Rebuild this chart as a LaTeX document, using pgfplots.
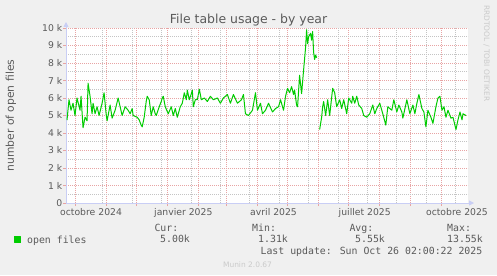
\documentclass[border=0pt]{standalone}
\usepackage{pgfplots}
\pgfplotsset{compat=1.18}
\usepackage{pgfplotstable}
\usepackage{fontspec}
\setmainfont{DejaVu Sans}
\newfontfamily\monofont{DejaVu Sans Mono}
\usetikzlibrary{arrows.meta}
\definecolor{bgc}{HTML}{F0F0F0}
\definecolor{txt}{HTML}{5A5A5A}
\definecolor{mgrid}{HTML}{E8A4A4}
\definecolor{ngrid}{HTML}{C4C4C4}
\definecolor{axc}{HTML}{C9CEF5}
\definecolor{lgreen}{HTML}{00CC00}
\definecolor{faint}{HTML}{CACACA}

% day 0 = 1 Oct 2024 ; value = open files
\pgfplotstableread{
day val
-8 4740
-6 5900
-4 5300
-2 5700
0 5000
2 6000
5 5300
6 6100
8 4300
10 4900
12 4700
13 6850
15 6100
17 5100
18 5700
20 5100
22 5500
24 5000
27 5700
29 6300
31 5100
32 4700
35 5600
37 4850
40 5300
43 6000
45 5500
47 5000
50 5500
53 5300
55 5100
57 5400
58 5000
62 4900
64 4750
66 4450
67 4350
69 4900
71 5800
72 6100
74 5900
76 5000
78 5500
80 5100
81 5000
84 5500
86 5800
87 6000
88 6100
90 5500
93 5100
96 5500
98 5000
100 5400
102 4900
105 5500
107 5700
109 6300
111 5900
112 6450
114 5900
116 6250
117 6450
118 5500
120 5900
122 5900
124 6500
126 5900
129 6000
132 5800
135 6100
138 5900
142 6000
145 5700
148 6000
152 6200
155 5700
158 6200
162 5700
166 5900
168 6200
170 5100
173 5000
177 5300
180 6300
182 5300
185 5700
187 5100
190 5300
193 5700
197 5200
200 5400
203 5500
205 5900
208 5300
210 6100
212 6550
214 6300
216 6650
218 6200
219 6450
221 5600
222 5500
224 7300
226 6250
228 7600
230 8900
231 9900
232 9100
233 9500
235 9700
236 9300
237 9800
238 8600
239 8200
240 8450
241 8300
242 nan
244 4200
246 4900
247 5500
248 5800
250 5000
252 5900
254 5000
257 6550
259 6300
261 5500
264 5900
266 5400
268 5900
271 5100
273 6000
276 5700
277 6100
279 5700
281 6100
283 5600
286 5400
288 5000
291 4900
294 5100
297 5600
299 5100
301 5400
304 5700
307 5100
310 4450
312 5500
316 5300
318 5900
321 5200
323 5600
326 5200
327 4850
331 5900
334 5100
337 5600
339 5100
341 5700
343 6200
346 5400
348 5200
350 4350
352 5300
355 4900
357 4550
360 5500
362 6000
364 6100
366 5300
368 5500
370 4900
372 5300
375 4850
377 4900
380 4200
382 4750
384 5200
386 4750
387 5100
390 5000
}\filetable

\begin{document}
\begin{tikzpicture}[x=1bp,y=1bp]
\fill[bgc] (0,0) rectangle (497,275);
\useasboundingbox (0,0) rectangle (497,275);
\begin{axis}[
  at={(66bp,72bp)}, anchor=south west,
  scale only axis, width=402bp, height=175bp,
  xmin=-9, xmax=392, ymin=0, ymax=10000,
  scaled y ticks=false,
  axis background/.style={fill=white},
  axis x line*=bottom, axis y line*=left,
  x axis line style={draw=axc, line width=0.9bp, shorten >=-6bp, -{Triangle[length=5bp,width=5bp]}},
  y axis line style={draw=axc, line width=0.9bp, shorten >=-6bp, -{Triangle[length=5bp,width=5bp]}},
  tick align=outside,
  major tick length=3bp, minor tick length=3bp,
  xtick={16,108,198,289,381},
  xticklabels={octobre 2024,janvier 2025,avril 2025,juillet 2025,octobre 2025},
  major x tick style={draw=none},
  minor xtick={0,31,61,92,123,151,182,212,243,273,304,335,365},
  minor x tick style={draw=mgrid, line width=0.8bp},
  xminorgrids=true,
  minor x grid style={draw=mgrid, line width=0.8bp, dash pattern=on 1bp off 1bp},
  ytick={0,1000,2000,3000,4000,5000,6000,7000,8000,9000,10000},
  yticklabels={0,1 k,2 k,3 k,4 k,5 k,6 k,7 k,8 k,9 k,10 k},
  ymajorgrids=true,
  major y grid style={draw=mgrid, line width=0.8bp, dash pattern=on 1bp off 1bp},
  major y tick style={draw=mgrid, line width=0.8bp},
  minor y tick num=1,
  yminorgrids=true,
  minor y grid style={draw=ngrid, line width=0.8bp, dash pattern=on 1bp off 1bp},
  minor y tick style={draw=none},
  tick label style={font=\fontsize{9.3}{11}\selectfont, text=txt},
  yticklabel style={anchor=east, inner sep=0pt, xshift=-0.5bp},
  xticklabel style={anchor=base, inner sep=0pt, yshift=-9.5bp},
  title={File table usage - by year},
  every axis title/.style={at={(0.5,1)}, anchor=base, yshift=4.5bp, xshift=-18.5bp, font=\fontsize{12.5}{14}\selectfont, text=txt},
  ylabel={number of open files},
  every axis y label/.style={at={(0,0.5)}, xshift=-55.2bp, rotate=90, anchor=center, font=\fontsize{10.8}{12}\selectfont, text=txt},
  unbounded coords=jump,
  legend style={at={(rel axis cs:-0.1294,-0.2114)}, anchor=west, draw=none, fill=none, inner sep=0pt,
    font=\monofont\fontsize{9.9}{11}\selectfont, text=txt,
    nodes={inner sep=0pt},
    /tikz/every odd column/.append style={column sep=6bp}},
  legend image code/.code={\fill[lgreen] (0bp,-3bp) rectangle (6bp,3bp);},
]
% light grey secondary vertical grid lines
\pgfplotsinvokeforeach{27.7,57,86.4,115.7,145,174.4,203.7,233,262.4,291.7,321,350.4,379.7}{
  \draw[ngrid, line width=0.8bp, dash pattern=on 1bp off 1bp] (axis cs:#1,0) -- (axis cs:#1,10000);
}
\addplot[lgreen, line width=1bp, line join=round] table[x=day, y=val] {\filetable};
\addlegendentry{open files}
\end{axis}
\begin{scope}[font=\monofont\fontsize{9.9}{11}\selectfont, text=txt]
\node[anchor=base west, inner sep=0pt] at (154.3,44) {Cur:};
\node[anchor=base west, inner sep=0pt] at (160,32.3) {5.00k};
\node[anchor=base west, inner sep=0pt] at (252,44) {Min:};
\node[anchor=base west, inner sep=0pt] at (258,32.3) {1.31k};
\node[anchor=base west, inner sep=0pt] at (349.3,44) {Avg:};
\node[anchor=base west, inner sep=0pt] at (355,32.3) {5.55k};
\node[anchor=base west, inner sep=0pt] at (447,44) {Max:};
\node[anchor=base west, inner sep=0pt] at (447,32.3) {13.55k};
\node[anchor=base east, inner sep=0pt] at (482.5,21) {Last update: Sun Oct 26 02:00:22 2025};
\end{scope}
\node[anchor=base, inner sep=0pt, font=\fontsize{7.5}{9}\selectfont, text=faint] at (247.5,7.7) {Munin 2.0.67};
\node[rotate=-90, anchor=west, inner sep=0pt, font=\fontsize{7.5}{9}\selectfont, text=faint] at (486.5,270) {RRDTOOL / TOBI OETIKER};
\end{tikzpicture}
\end{document}
